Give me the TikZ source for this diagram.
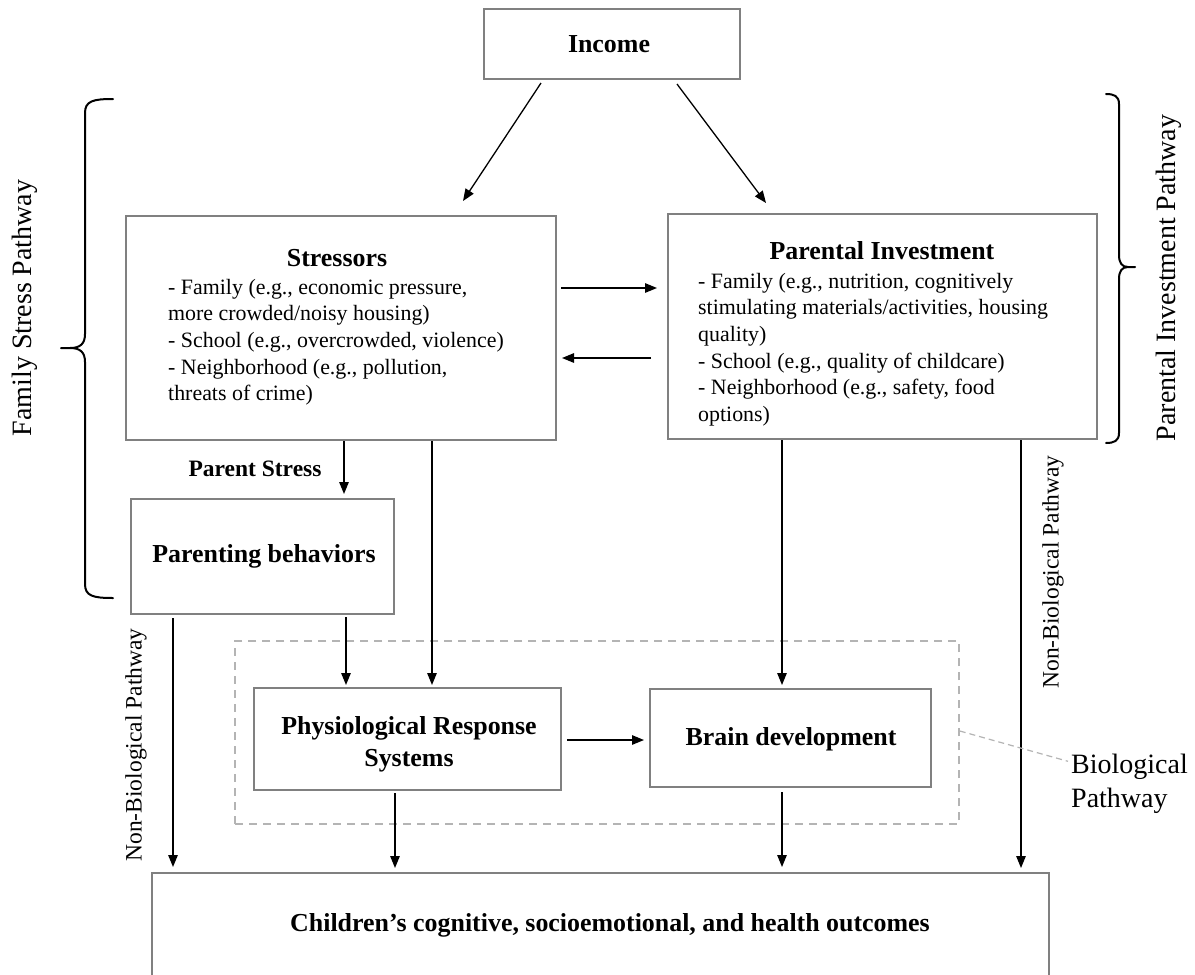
\documentclass[tikz,border=0pt]{standalone}
\usepackage{fontspec}
\setmainfont{Liberation Serif}
\usetikzlibrary{arrows.meta}
\definecolor{boxgray}{HTML}{808080}
\definecolor{dashgray}{HTML}{B4B4B4}
\begin{document}
\begin{tikzpicture}[x=1pt,y=-1pt,
  box/.style={draw=boxgray, line width=2pt, inner sep=0pt, rectangle},
  arr/.style={-{Triangle[length=12pt,width=9.5pt]}, line width=1.3pt, black},
  ttl/.style={font=\fontsize{25.9}{30}\selectfont\bfseries, inner sep=0pt},
  body/.style={font=\fontsize{21.9}{26.7}\selectfont, inner sep=0pt, anchor=base west},
  lbl/.style={font=\fontsize{28}{34}\selectfont, inner sep=0pt},
  nlbl/.style={font=\fontsize{23.5}{28}\selectfont, inner sep=0pt, rotate=90},
  bracestyle/.style={line width=2pt, black, line cap=round, line join=round},
  dashbox/.style={draw=dashgray, dash pattern=on 8pt off 6pt, line width=1.6pt, inner sep=0pt},
  dashlink/.style={draw=dashgray, dash pattern=on 6pt off 4pt, line width=1.2pt},
]
\clip (0,0) rectangle (1195,975);
\fill[white] (0,0) rectangle (1195,975);

% boxes
\node[box, minimum width=256pt, minimum height=70pt] (income) at (612,44) {};
\node[box, minimum width=430pt, minimum height=224pt] (stress) at (341,328) {};
\node[box, minimum width=429pt, minimum height=225pt] (invest) at (882.5,326.5) {};
\node[box, minimum width=263pt, minimum height=115pt] (parenting) at (262.5,556.5) {};
\node[box, minimum width=307pt, minimum height=102pt] (physio) at (407.5,739) {};
\node[box, minimum width=281pt, minimum height=98pt] (brain) at (790.5,738) {};
\node[box, minimum width=897pt, minimum height=120pt] (outcome) at (600.5,933) {};
\node[dashbox, minimum width=724pt, minimum height=183pt] (bio) at (597,732.5) {};

% texts
\node[ttl, anchor=base] (incomet) at (609,52) {Income};
\node[ttl, anchor=base] (stresst) at (337,266) {Stressors};
\foreach \t [count=\i] in {{- Family (e.g., economic pressure,},{more crowded/noisy housing)},{- School (e.g., overcrowded, violence)},{- Neighborhood (e.g., pollution,},{threats of crime)}}
  \node[body] (sl\i) at (168,{294+(\i-1)*26.7}) {\t};
\node[ttl, anchor=base] (investt) at (882,259) {Parental Investment};
\foreach \t [count=\i] in {{- Family (e.g., nutrition, cognitively},{stimulating materials/activities, housing},{quality)},{- School (e.g., quality of childcare)},{- Neighborhood (e.g., safety, food},{options)}}
  \node[body] (il\i) at (698,{288+(\i-1)*26.7}) {\t};
\node[ttl, anchor=base] (parentingt) at (264,562) {Parenting behaviors};
\node[ttl, anchor=base] (physiot1) at (409,734) {Physiological Response};
\node[ttl, anchor=base] (physiot2) at (409,766) {Systems};
\node[ttl, anchor=base] (braint) at (791,745) {Brain development};
\node[ttl, anchor=base] (outcomet) at (610,931) {Children’s cognitive, socioemotional, and health outcomes};
\node[font=\fontsize{23.5}{28}\selectfont\bfseries, inner sep=0pt, anchor=base] (pstress) at (255,476) {Parent Stress};

% pathway labels
\node[lbl, rotate=90] (fsp) at (25,308) {Family Stress Pathway};
\node[lbl, rotate=90] (pip) at (1169,278) {Parental Investment Pathway};
\node[nlbl] (nbl) at (136,745) {Non-Biological Pathway};
\node[nlbl] (nbr) at (1053,572) {Non-Biological Pathway};
\node[lbl, anchor=base west] (biol1) at (1071,773) {Biological};
\node[lbl, anchor=base west] (biol2) at (1071,807) {Pathway};

% connectors
\draw[arr] ([xshift=-71pt,yshift=-3pt]income.south) -- ([xshift=122pt,yshift=14pt]stress.north);
\draw[arr] ([xshift=65pt,yshift=-4pt]income.south) -- ([xshift=-116.5pt,yshift=10pt]invest.north);
\draw[arr] ([xshift=4pt,yshift=40pt]stress.east) -- ([xshift=-10pt,yshift=38.5pt]invest.west);
\draw[arr] ([xshift=-16pt,yshift=-31.5pt]invest.west) -- ([xshift=5pt,yshift=-30pt]stress.east);
\draw[arr] ([xshift=3pt]stress.south) -- ([xshift=81.5pt,yshift=4pt]parenting.north);
\draw[arr] ([xshift=91pt]stress.south) -- ([xshift=24.5pt,yshift=2pt]physio.north);
\draw[arr] ([xshift=83.5pt,yshift=-2pt]parenting.south) -- ([xshift=-61.5pt,yshift=2pt]physio.north);
\draw[arr] ([xshift=-89.5pt,yshift=-3pt]parenting.south) -- ([xshift=-427.5pt,yshift=5pt]outcome.north);
\draw[arr] ([xshift=-100.5pt]invest.south) -- ([xshift=-8.5pt,yshift=3pt]brain.north);
\draw[arr] ([xshift=138.5pt]invest.south) -- ([xshift=420.5pt,yshift=4pt]outcome.north);
\draw[arr] ([xshift=-12.5pt,yshift=-2pt]physio.south) -- ([xshift=-205.5pt,yshift=4pt]outcome.north);
\draw[arr] ([xshift=-8.5pt,yshift=-4pt]brain.south) -- ([xshift=181.5pt,yshift=5pt]outcome.north);
\draw[arr] ([xshift=5pt,yshift=-1pt]physio.east) -- ([xshift=-5pt,yshift=-2pt]brain.west);
\draw[dashlink] ([yshift=1.5pt]bio.east) -- ([xshift=-3pt,yshift=5pt]biol1.west);

% braces
\draw[bracestyle] (113,99) .. controls (93,99) and (85,101) .. (85,113) -- (85,334)
  .. controls (85,344) and (80,348) .. (70,348) -- (61,348)
  (70,348) .. controls (80,348) and (85,352) .. (85,362) -- (85,584)
  .. controls (85,596) and (93,598) .. (113,598);
\draw[bracestyle] (1106,94) .. controls (1114,94) and (1119,96) .. (1119,104) -- (1119,255)
  .. controls (1119,263) and (1122,267) .. (1128,267) -- (1135,267)
  (1128,267) .. controls (1122,267) and (1119,271) .. (1119,279) -- (1119,433)
  .. controls (1119,441) and (1114,443) .. (1106,443);
\end{tikzpicture}
\end{document}
